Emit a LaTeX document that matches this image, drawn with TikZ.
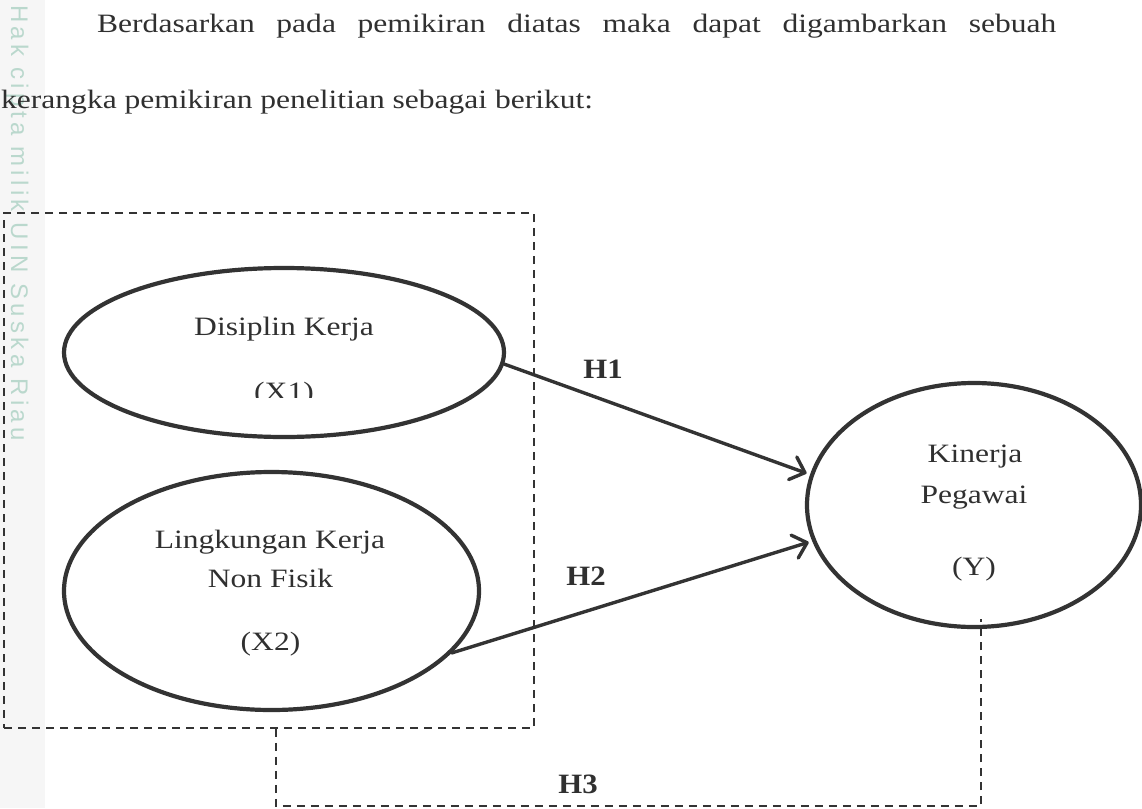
\documentclass[tikz,border=0pt]{standalone}
\usepackage{graphicx}
\usepackage{fontspec}
\setmainfont{Liberation Serif}
\newfontfamily\wmfont[LetterSpace=18]{Liberation Sans}
\usetikzlibrary{shapes.geometric,arrows.meta,calc}
\definecolor{ink}{HTML}{333333}
\definecolor{txt}{HTML}{303030}
\definecolor{wm}{RGB}{186,216,205}
\definecolor{band}{HTML}{F6F6F6}
\newcommand{\hstr}[1]{\scalebox{1.19}[1]{#1}}
\tikzset{
  x=1pt, y=-1pt,
  oval/.style={ellipse, draw=ink, line width=4.2pt, inner sep=0pt, fill=none},
  body/.style={text=txt, inner sep=0pt, font=\fontsize{26.5}{30}\selectfont},
  hyp/.style={text=txt, inner sep=0pt, font=\fontsize{28}{30}\selectfont\bfseries},
  arr/.style={draw=ink, line width=3.4pt, line cap=round,
    -{Straight Barb[length=13pt,width=24pt,line width=3.4pt,round]}},
  dashln/.style={draw=ink, line width=1.9pt, dash pattern=on 8pt off 6pt},
}
\begin{document}
\begin{tikzpicture}
\useasboundingbox (0,0) rectangle (1142,808);
\fill[white] (0,0) rectangle (1142,808);
\fill[band] (0,0) rectangle (45,808);
% watermark text
\node[rotate=-90, anchor=base west, text=wm, inner sep=0pt,
  font=\wmfont\fontsize{24}{24}\selectfont] (wmark) at (11,5) {Hak cipta milik UIN Suska Riau};

% paragraph
\node[body, anchor=base west] (p1) at (97,33)
  {\hstr{\makebox[806pt][s]{Berdasarkan pada pemikiran diatas maka dapat digambarkan sebuah}}};
\node[body, anchor=base west] (p2) at (1,108)
  {\hstr{kerangka pemikiran penelitian sebagai berikut:}};

% group box
\node[dashln, rectangle, draw, minimum width=530pt, minimum height=515pt, inner sep=0pt] (grp) at (269,470.5) {};

% ellipses
\node[oval, minimum width=440pt, minimum height=169pt] (X1) at (284,352.5) {};
\node[oval, minimum width=415pt, minimum height=238pt] (X2) at (271.5,591) {};
\node[oval, minimum width=334pt, minimum height=244pt] (Y) at (974,505) {};

% texts
\node[body, anchor=base] (t1) at (284,335) {\hstr{Disiplin Kerja}};
\begin{scope}
  \clip (0,0) rectangle (1142,397.5);
  \node[body, anchor=base] (t1b) at (284,400) {\hstr{(X1)}};
\end{scope}
\node[body, anchor=base] (t2) at (270,548) {\hstr{Lingkungan Kerja}};
\node[body, anchor=base] (t2b) at (270.5,587) {\hstr{Non Fisik}};
\node[body, anchor=base] (t2c) at (270.5,650) {\hstr{(X2)}};
\node[body, anchor=base] (t3) at (975,462) {\hstr{Kinerja}};
\node[body, anchor=base] (t3b) at (974,503) {\hstr{Pegawai}};
\node[body, anchor=base] (t3c) at (974,575) {\hstr{(Y)}};

% arrows
\draw[arr] (X1.-3) -- ([xshift=-4pt]Y.169);
\draw[arr] (X2.-19) -- ([xshift=-4pt]Y.193);

% H3 connector
\coordinate (h3mid) at (600,806);
\draw[dashln] ([xshift=7pt]grp.south) |- (h3mid) -| ([xshift=7pt,yshift=10pt]Y.south);

% labels
\node[hyp, anchor=base] (H1) at (603,378) {\scalebox{1.1}[1]{H1}};
\node[hyp, anchor=base] (H2) at (586,585) {\scalebox{1.1}[1]{H2}};
\node[hyp, anchor=base] (H3) at (578,793) {\scalebox{1.1}[1]{H3}};
\end{tikzpicture}
\end{document}
